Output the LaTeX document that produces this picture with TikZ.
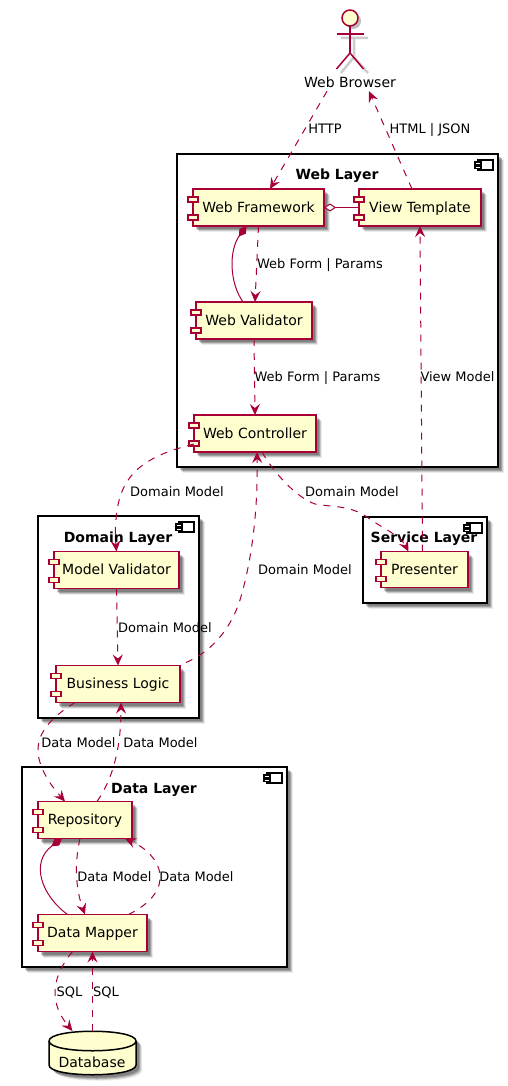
\documentclass[tikz,border=0pt]{standalone}
\usepackage{fontspec}
\setmainfont{DejaVu Sans}
\usetikzlibrary{arrows.meta,positioning,calc,shadows}
\definecolor{umlred}{HTML}{A80036}
\definecolor{umlcream}{HTML}{FEFECE}

\begin{document}
\begin{tikzpicture}[
    x=1pt, y=-1pt,
    softshadow/.style={
        drop shadow={shadow xshift=6pt, shadow yshift=-6pt, opacity=.08, fill=black},
        drop shadow={shadow xshift=5pt, shadow yshift=-5pt, opacity=.14, fill=black},
        drop shadow={shadow xshift=4pt, shadow yshift=-4pt, opacity=.2, fill=black},
        drop shadow={shadow xshift=3pt, shadow yshift=-3pt, opacity=.2, fill=black}},
    layer/.style={draw=black, fill=white, line width=1.5pt, outer sep=0pt, inner sep=0pt, softshadow},
    layertitle/.style={font=\fontsize{14}{16}\selectfont\bfseries, inner sep=0pt, text height=12pt, text depth=2pt},
    comp/.style={draw=umlred, fill=umlcream, line width=1.5pt, outer sep=0pt, inner sep=0pt, minimum height=37pt, text height=11pt, text depth=2pt, font=\fontsize{14}{16}\selectfont, softshadow},
    tab/.style={draw=umlred, fill=umlcream, line width=1.5pt},
    icon/.style={draw=black, fill=white, line width=1.5pt},
    lbl/.style={font=\fontsize{13}{15}\selectfont, inner sep=0pt, text height=12pt, text depth=2pt},
    plain/.style={font=\fontsize{14}{16}\selectfont, inner sep=0pt, text height=12pt, text depth=2pt},
    flow/.style={draw=umlred, line width=1pt, dashed, dash pattern=on 7pt off 7pt, -{Stealth[length=11pt, width=10pt, inset=4pt, fill=umlred]}},
    link/.style={draw=umlred, line width=1pt}
]
\useasboundingbox (0,0) rectangle (507,1086);

% layers
\node[layer, minimum width=321pt, minimum height=313pt] (weblayer) at (337.5,310.5) {};
\node[layer, minimum width=161pt, minimum height=202pt] (domainlayer) at (118.5,617) {};
\node[layer, minimum width=124pt, minimum height=86pt] (servicelayer) at (425,560) {};
\node[layer, minimum width=265pt, minimum height=200pt] (datalayer) at (154.5,867) {};

\foreach \l in {weblayer,domainlayer,servicelayer,datalayer} {
    \draw[icon] ([xshift=-20pt,yshift=-6pt]\l.north east) rectangle ++(15,10);
    \draw[icon] ([xshift=-23pt,yshift=-8pt]\l.north east) rectangle ++(6,2.5);
    \draw[icon] ([xshift=-23pt,yshift=-12pt]\l.north east) rectangle ++(6,2.5);
}

\node[layertitle] (webtitle) at (337,175) {Web Layer};
\node[layertitle] (domaintitle) at (118,537) {Domain Layer};
\node[layertitle] (servicetitle) at (424,537) {Service Layer};
\node[layertitle] (datatitle) at (154,788) {Data Layer};

% components
\node[comp, minimum width=131pt] (framework) at (258.5,207.5) {Web Framework};
\node[comp, minimum width=122pt] (template) at (420,207.5) {View Template};
\node[comp, minimum width=116pt] (validator) at (254,320.5) {Web Validator};
\node[comp, minimum width=122pt] (controller) at (255,433.5) {Web Controller};
\node[comp, minimum width=87pt, minimum height=36pt] (presenter) at (424.5,569.5) {Presenter};
\node[comp, minimum width=125pt] (modelvalidator) at (116.5,570) {Model Validator};
\node[comp, minimum width=124pt] (logic) at (118,684) {Business Logic};
\node[comp, minimum width=94pt] (repository) at (85,820) {Repository};
\node[comp, minimum width=109pt] (mapper) at (92.5,933) {Data Mapper};

\foreach \n in {framework,template,validator,controller,presenter,modelvalidator,logic,repository,mapper} {
    \draw[tab] ([xshift=-5pt,yshift=-8pt]\n.north west) rectangle ++(10,5);
    \draw[tab] ([xshift=-5pt,yshift=6pt]\n.south west) rectangle ++(10,-5);
}

% database
\path[draw=black, fill=umlcream, line width=1.5pt, softshadow] (49,1041) .. controls (49,1028) and (136,1028) .. (136,1041)
    -- (136,1065) .. controls (136,1078) and (49,1078) .. (49,1065) -- cycle;
\draw[black, line width=1.5pt] (49,1041) .. controls (49,1054) and (136,1054) .. (136,1041);
\node[plain] (database) at (92,1062) {Database};
\coordinate (databasetop) at (92.5,1031);

% actor
\draw[draw=black, opacity=.2, line width=2.5pt] (341,38) -- (368,38) (354,38) -- (354,57) -- (341,73) (354,57) -- (368,73);
\node[circle, draw=umlred, fill=umlcream, line width=1.5pt, minimum size=16pt, inner sep=0pt, outer sep=0pt,
    drop shadow={shadow xshift=3pt, shadow yshift=-3pt, opacity=.25, fill=black}] (browserhead) at (350,18) {};
\draw[link, line width=1.5pt] (browserhead.south) -- ++(0,27) coordinate (hip);
\draw[link, line width=1.5pt] ([xshift=-13.5pt,yshift=-8pt]browserhead.south) -- ++(27,0);
\draw[link, line width=1.5pt] (hip) -- ++(-13.5,16) coordinate (footleft);
\draw[link, line width=1.5pt] (hip) -- ++(13.5,16) coordinate (footright);
\node[plain, minimum height=16pt] (browser) at (350,83) {Web Browser};

% connectors
\draw[flow] ([xshift=-23pt]browser.south) -- ([xshift=11.5pt]framework.north);
\draw[flow] ([xshift=-8pt]template.north) -- ([xshift=19pt]browser.south);
\draw[link, {Diamond[open, fill=white, length=12pt, width=8pt, line width=1pt]}-] (framework.east) -- (template.west);
\draw[link, {Diamond[fill=umlred, length=13pt, width=8pt]}-] ([xshift=-12pt]framework.south) .. controls (229,250) and (229,282) .. ([xshift=-11pt]validator.north);
\draw[flow] (framework.south) -- ([xshift=1pt]validator.north);
\draw[flow] (validator.south) -- (controller.north);
\draw[flow] ([xshift=-2pt]presenter.north) -- (template.south);
\draw[flow] ([yshift=-10.5pt]controller.west) .. controls (150,455) and (125,470) .. (118,505) .. controls (115,520) and (115,535) .. (modelvalidator.north);
\draw[flow] (modelvalidator.south) -- (logic.north);
\draw[flow] ([xshift=6pt,yshift=3pt]logic.north east) .. controls (215,650) and (232,625) .. (240,600) .. controls (252,560) and (258,510) .. ([xshift=2pt]controller.south);
\draw[flow] ([xshift=7pt]controller.south) .. controls (272,470) and (295,497) .. (315,504) .. controls (330,507) and (350,505) .. (367,517) .. controls (380,527) and (400,535) .. ([xshift=-16pt]presenter.north);
\draw[flow] ([xshift=-43pt]logic.south) .. controls (55,715) and (38,730) .. (38,750) .. controls (38,770) and (55,790) .. ([xshift=-20pt]repository.north);
\draw[flow] ([xshift=12pt]repository.north) .. controls (112,780) and (121,750) .. ([xshift=3pt]logic.south);
\draw[link, {Diamond[fill=umlred, length=13pt, width=8pt]}-] ([xshift=-23pt]repository.south) .. controls (30,862) and (41,895) .. ([xshift=-25pt]mapper.north);
\draw[flow] ([xshift=-5pt]repository.south) .. controls (74,865) and (76,890) .. ([xshift=-7.5pt]mapper.north);
\draw[flow] ([xshift=36pt]mapper.north) .. controls (178,890) and (162,855) .. ([xshift=40pt]repository.south);
\draw[flow] ([xshift=-20pt]mapper.south) .. controls (45,985) and (55,1010) .. ([xshift=-20pt]databasetop);
\draw[flow] (databasetop) -- (mapper.south);

% labels
\node[lbl] (httplabel) at (325,129) {HTTP};
\node[lbl] (htmllabel) at (430,129) {HTML | JSON};
\node[lbl] (formlabel) at (320,263) {Web Form | Params};
\node[lbl] (paramslabel) at (317.5,376) {Web Form | Params};
\node[lbl] (viewlabel) at (457.5,376) {View Model};
\node[lbl] (domainleft) at (177,491) {Domain Model};
\node[lbl] (domainright) at (352,491) {Domain Model};
\node[lbl] (domainback) at (305,569) {Domain Model};
\node[lbl] (domaininner) at (165,627) {Domain Model};
\node[lbl] (dataleft) at (78.5,742) {Data Model};
\node[lbl] (dataright) at (160.5,742) {Data Model};
\node[lbl] (datainner) at (114.5,876) {Data Model};
\node[lbl] (dataouter) at (196.5,876) {Data Model};
\node[lbl] (sqlleft) at (69.5,991) {SQL};
\node[lbl] (sqlright) at (106,991) {SQL};
\end{tikzpicture}
\end{document}
